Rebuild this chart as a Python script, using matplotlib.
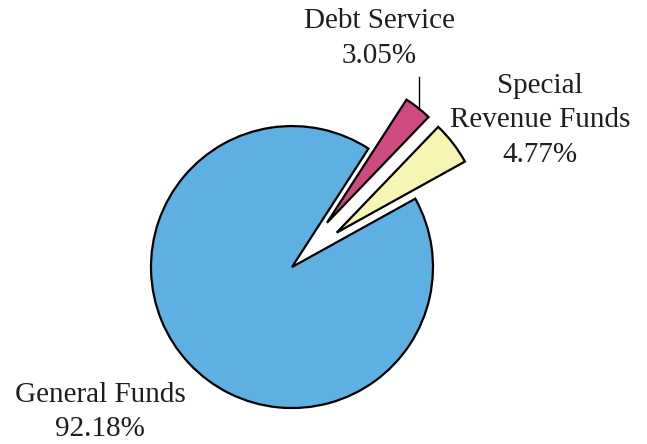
import matplotlib.pyplot as plt

labels = ["Special\nRevenue Funds", "Debt Service", "General Funds"]
shares = [4.77, 3.05, 92.18]
colors = ["#f6f5b4", "#cf4a7e", "#5eb0e2"]
explode = [0.4, 0.4, 0.0]

plt.rcParams['font.family'] = ['Liberation Serif', 'DejaVu Serif']

fig = plt.figure(figsize=(6.47, 4.44), dpi=100)
ax = fig.add_axes([0, 0, 1, 1])

wedges, _ = ax.pie(shares, colors=colors, explode=explode, startangle=29,
                   counterclock=True, radius=1.0,
                   wedgeprops=dict(edgecolor="black", linewidth=1.6))
# the two small slices sit a bit larger than the main disc
for w in wedges[:2]:
    w.set_radius(1.04)

ax.set_xlim(-2.071, 2.518)
ax.set_ylim(-1.255, 1.894)
ax.set_aspect("equal")
ax.axis("off")

fs = 21
for lab, val, (x, y) in zip(labels, shares,
                            [(1.76, 1.04), (0.62, 1.62), (-1.36, -1.03)]):
    ax.text(x, y, f"{lab}\n{val:.2f}%", ha="center", va="center",
            fontsize=fs, linespacing=1.42, color="#1e1e1e")

# leader from the debt service slice up to its label
ax.plot([0.90, 0.90], [1.12, 1.35], color="black", lw=1.0)

fig.savefig("out.png", dpi=100, facecolor="white")
